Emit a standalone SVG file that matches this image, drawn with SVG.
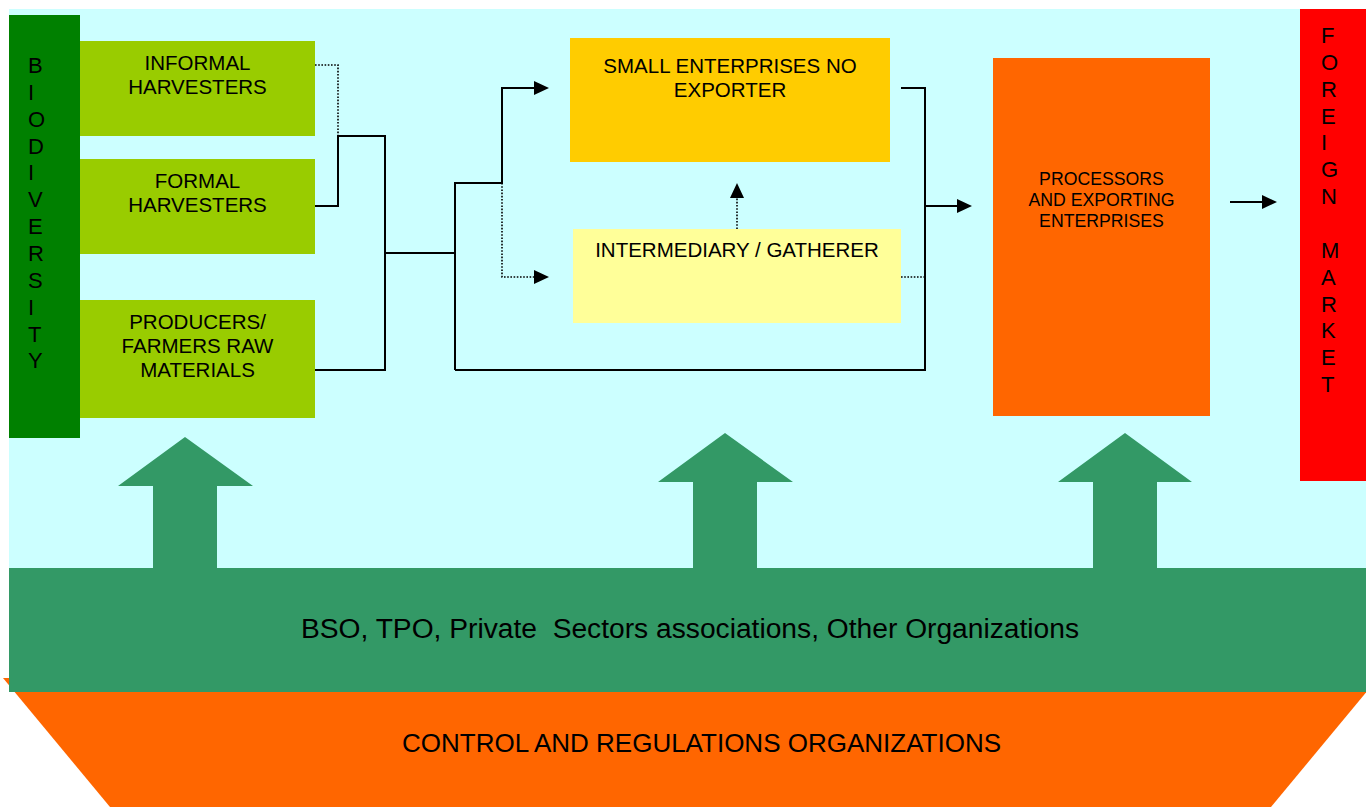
<svg xmlns="http://www.w3.org/2000/svg" width="1366" height="807" viewBox="0 0 1366 807">
  <style>
    text { font-family: "Liberation Sans", Arial, sans-serif; fill: #000; }
    .box20 { font-size: 20.5px; text-anchor: middle; }
    .box18 { font-size: 17.7px; text-anchor: middle; }
    .vert { font-size: 22px; }
    .band { font-size: 28.2px; text-anchor: middle; white-space: pre; }
    .base { font-size: 26px; text-anchor: middle; }
    .solid { fill: none; stroke: #000; stroke-width: 2; }
    .dotted { fill: none; stroke: #000; stroke-width: 1.6; stroke-dasharray: 1.6 1.6; }
    .up { fill: #339966; }
  </style>
  <defs>
    <marker id="head" markerUnits="userSpaceOnUse" markerWidth="15" markerHeight="14"
            viewBox="0 0 15 14" refX="7" refY="7" orient="auto">
      <path d="M0,0 L15,7 L0,14 Z" fill="#000"/>
    </marker>
  </defs>

  <!-- page and panel backgrounds -->
  <rect x="0" y="0" width="1366" height="807" fill="#FFFFFF"/>
  <rect x="9" y="9" width="1357" height="560" fill="#CCFFFF"/>

  <!-- bottom trapezoid -->
  <g id="control-regulations">
    <polygon points="3,678 1378,678 1271,807 110,807" fill="#FF6600"/>
    <text class="base" x="701.5" y="752">CONTROL AND REGULATIONS ORGANIZATIONS</text>
  </g>

  <!-- support band with upward block arrows -->
  <g id="support-organizations">
    <rect x="9" y="568" width="1357" height="124" fill="#339966"/>
    <polygon class="up" points="185,437 253,486 217,486 217,569 153,569 153,486 118,486"/>
    <polygon class="up" points="725,433 793,482 757,482 757,569 693,569 693,482 658,482"/>
    <polygon class="up" points="1125,433 1192,482 1157,482 1157,569 1093,569 1093,482 1058,482"/>
    <text class="band" x="690" y="638" xml:space="preserve">BSO, TPO, Private  Sectors associations, Other Organizations</text>
  </g>

  <g id="biodiversity">
    <rect x="9" y="15" width="71" height="423" fill="#008000"/>
    <text class="vert" x="28">
      <tspan x="28" y="73">B</tspan>
      <tspan x="28" y="99.85">I</tspan>
      <tspan x="28" y="126.7">O</tspan>
      <tspan x="28" y="153.55">D</tspan>
      <tspan x="28" y="180.4">I</tspan>
      <tspan x="28" y="207.25">V</tspan>
      <tspan x="28" y="234.1">E</tspan>
      <tspan x="28" y="260.95">R</tspan>
      <tspan x="28" y="287.8">S</tspan>
      <tspan x="28" y="314.65">I</tspan>
      <tspan x="28" y="341.5">T</tspan>
      <tspan x="28" y="368.35">Y</tspan>
    </text>
  </g>

  <g id="informal-harvesters">
    <rect x="80" y="41" width="235" height="95" fill="#99CC00"/>
    <text class="box20"><tspan x="197.5" y="70">INFORMAL</tspan><tspan x="197.5" y="94">HARVESTERS</tspan></text>
  </g>

  <g id="formal-harvesters">
    <rect x="80" y="159" width="235" height="95" fill="#99CC00"/>
    <text class="box20"><tspan x="197.5" y="188">FORMAL</tspan><tspan x="197.5" y="212">HARVESTERS</tspan></text>
  </g>

  <g id="producers-farmers">
    <rect x="80" y="300" width="235" height="118" fill="#99CC00"/>
    <text class="box20"><tspan x="197.5" y="329">PRODUCERS/</tspan><tspan x="197.5" y="353">FARMERS RAW</tspan><tspan x="197.5" y="377">MATERIALS</tspan></text>
  </g>

  <g id="small-enterprises">
    <rect x="570" y="38" width="320" height="124" fill="#FFCC00"/>
    <text class="box20"><tspan x="730" y="73">SMALL ENTERPRISES NO</tspan><tspan x="730" y="97">EXPORTER</tspan></text>
  </g>

  <g id="intermediary">
    <rect x="573" y="229" width="328" height="94" fill="#FFFF99"/>
    <text class="box20" x="737" y="257">INTERMEDIARY / GATHERER</text>
  </g>

  <g id="processors-exporters">
    <rect x="993" y="58" width="217" height="358" fill="#FF6600"/>
    <text class="box18"><tspan x="1101.5" y="185">PROCESSORS</tspan><tspan x="1101.5" y="206">AND EXPORTING</tspan><tspan x="1101.5" y="227">ENTERPRISES</tspan></text>
  </g>

  <g id="foreign-market">
    <rect x="1300" y="9" width="66" height="472" fill="#FF0000"/>
    <text class="vert" x="1321">
      <tspan x="1321" y="43">F</tspan>
      <tspan x="1321" y="69.85">O</tspan>
      <tspan x="1321" y="96.7">R</tspan>
      <tspan x="1321" y="123.55">E</tspan>
      <tspan x="1321" y="150.4">I</tspan>
      <tspan x="1321" y="177.25">G</tspan>
      <tspan x="1321" y="204.1">N</tspan>
      <tspan x="1321" y="257.8">M</tspan>
      <tspan x="1321" y="284.65">A</tspan>
      <tspan x="1321" y="311.5">R</tspan>
      <tspan x="1321" y="338.35">K</tspan>
      <tspan x="1321" y="365.2">E</tspan>
      <tspan x="1321" y="392.05">T</tspan>
    </text>
  </g>

  <g id="connectors">
    <!-- harvesters and producers merge -->
    <polyline class="dotted" points="315,65 338,65 338,136"/>
    <polyline class="solid" points="315,206 338,206 338,136 385,136 385,370 315,370"/>
    <line class="solid" x1="385" y1="253" x2="455" y2="253"/>
    <!-- split towards enterprises, intermediary and the direct route -->
    <polyline class="solid" points="455,370 455,183 502,183 502,88 541,88" marker-end="url(#head)"/>
    <polyline class="dotted" points="502,183 502,277 541,277" marker-end="url(#head)"/>
    <line class="dotted" x1="737" y1="229" x2="737" y2="191" marker-end="url(#head)"/>
    <polyline class="solid" points="455,370 925,370 925,88 901,88"/>
    <line class="dotted" x1="901" y1="277" x2="925" y2="277"/>
    <line class="solid" x1="925" y1="206" x2="964" y2="206" marker-end="url(#head)"/>
    <line class="solid" x1="1230" y1="202" x2="1269" y2="202" marker-end="url(#head)"/>
  </g>
</svg>
